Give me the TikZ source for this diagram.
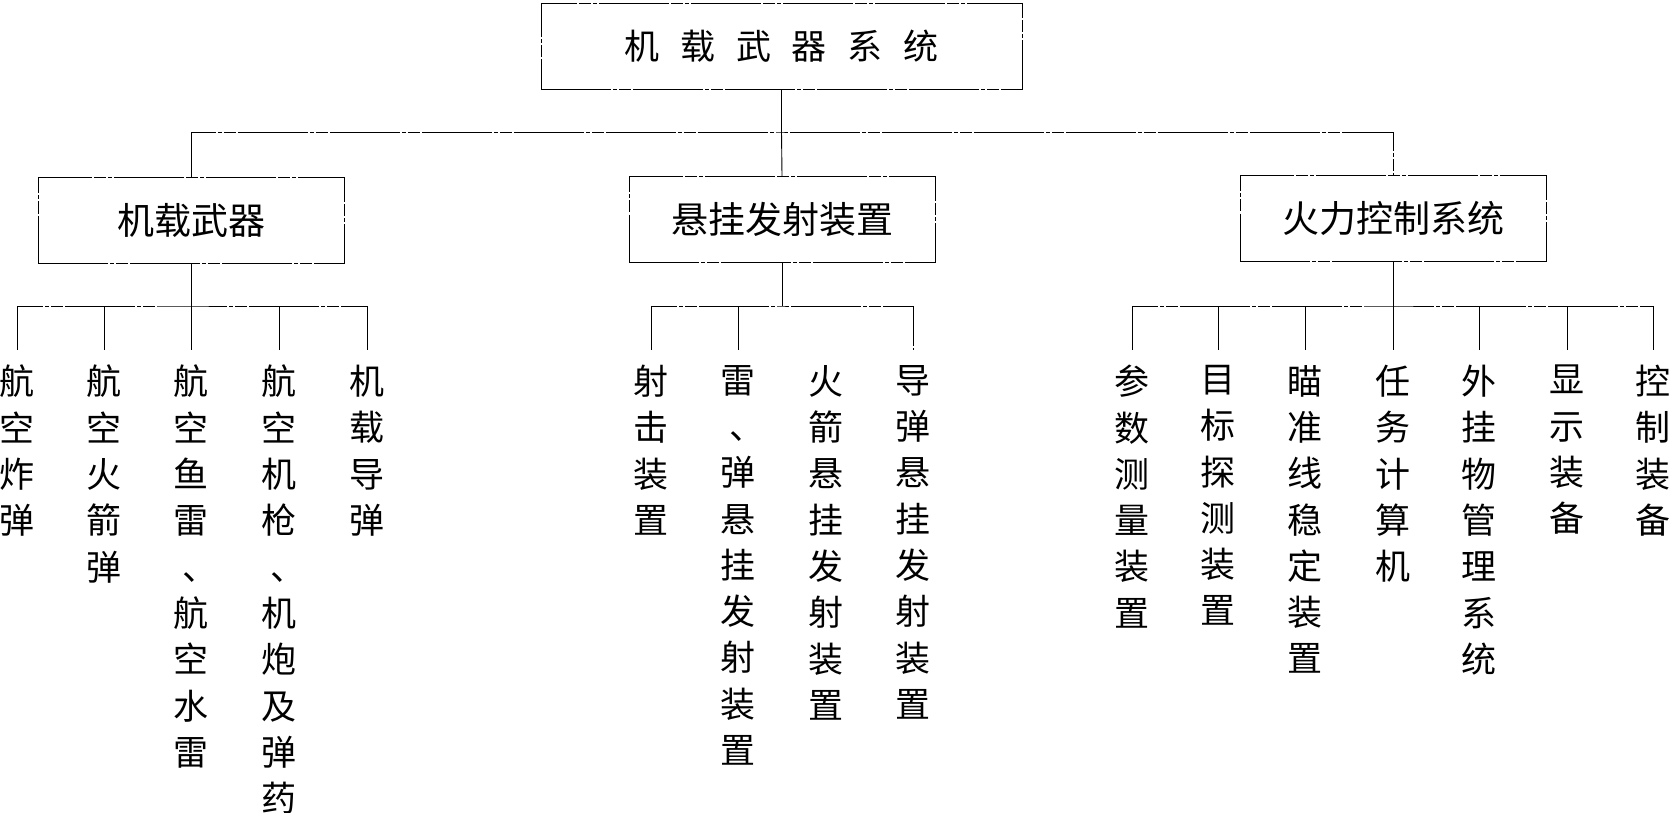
\documentclass[tikz,border=0pt]{standalone}
\usepackage{fontspec}
\newfontfamily\cjk{Noto Sans CJK SC}
\newcommand\vdun{\makebox[1em][l]{\hspace{0.25em}、}}
\tikzset{
  ln/.style={line width=0.9pt, draw=black, dash pattern=on 70pt off 2pt on 4pt off 2pt on 12pt off 2pt},
  titlebox/.style={ln, rectangle, inner sep=0pt, minimum width=481pt, minimum height=86pt,
     font=\cjk\fontsize{35}{40}\selectfont},
  catbox/.style={ln, rectangle, inner sep=0pt, minimum width=306pt, minimum height=86pt,
     font=\cjk\fontsize{37}{42}\selectfont},
  leaf/.style={anchor=north, align=center, inner xsep=0pt, inner ysep=15pt,
     font=\cjk\fontsize{35}{46.3}\selectfont},
}
\begin{document}
\begin{tikzpicture}[x=1pt,y=-1pt]
\useasboundingbox (0,0) rectangle (1672,813);

% top
\node[titlebox] (top) at (781.5,46) {机\hspace{20.8pt}载\hspace{20.8pt}武\hspace{20.8pt}器\hspace{20.8pt}系\hspace{20.8pt}统};
\coordinate (bus) at (781.5,132);

% categories
\node[catbox] (c1) at (191,220.5) {机载武器};
\node[catbox] (c2) at (782,219.5) {悬挂发射装置};
\node[catbox] (c3) at (1393,218.5) {火力控制系统};

\draw[ln] (top.south) -- (bus);
\draw[ln] (c1.north) |- (bus) -| (c3.north);
\draw[ln] (bus) -- (c2.north);

% sub bus points
\coordinate (s1) at (191,306);
\coordinate (s2) at (782,306);
\coordinate (s3) at (1393,306);

% left leaves
\node[leaf] (l1) at (17,350) {航\\空\\炸\\弹};
\node[leaf] (l2) at (104,350) {航\\空\\火\\箭\\弹};
\node[leaf] (l3) at (191,350) {航\\空\\鱼\\雷\\\vdun\\航\\空\\水\\雷};
\node[leaf] (l4) at (279,350) {航\\空\\机\\枪\\\vdun\\机\\炮\\及\\弹\\药};
\node[leaf] (l5) at (367,350) {机\\载\\导\\弹};

\draw[ln] (c1.south) -- (s1);
\draw[ln] (l1.north) |- (s1) -| (l5.north);
\draw[ln] (s1) -- (l3.north);
\draw[ln] (l2.north) -- (l2.north |- s1);
\draw[ln] (l4.north) -- (l4.north |- s1);

% middle leaves
\node[leaf] (m1) at (651,350) {射\\击\\装\\置};
\node[leaf] (m2) at (738,350) {雷\\\vdun\\弹\\悬\\挂\\发\\射\\装\\置};
\node[leaf] (m3) at (826,350) {火\\箭\\悬\\挂\\发\\射\\装\\置};
\node[leaf] (m4) at (913,350) {导\\弹\\悬\\挂\\发\\射\\装\\置};

\draw[ln] (c2.south) -- (s2);
\draw[ln] (m1.north) |- (s2) -| (m4.north);
\draw[ln] (m2.north) -- (m2.north |- s2);

% right leaves
\node[leaf] (r1) at (1132,350) {参\\数\\测\\量\\装\\置};
\node[leaf] (r2) at (1218,350) {目\\标\\探\\测\\装\\置};
\node[leaf] (r3) at (1305,350) {瞄\\准\\线\\稳\\定\\装\\置};
\node[leaf] (r4) at (1393,350) {任\\务\\计\\算\\机};
\node[leaf] (r5) at (1479,350) {外\\挂\\物\\管\\理\\系\\统};
\node[leaf] (r6) at (1567,350) {显\\示\\装\\备};
\node[leaf] (r7) at (1653,350) {控\\制\\装\\备};

\draw[ln] (c3.south) -- (s3);
\draw[ln] (r1.north) |- (s3) -| (r7.north);
\draw[ln] (s3) -- (r4.north);
\foreach \n in {r2,r3,r5,r6} \draw[ln] (\n.north) -- (\n.north |- s3);
\end{tikzpicture}
\end{document}
